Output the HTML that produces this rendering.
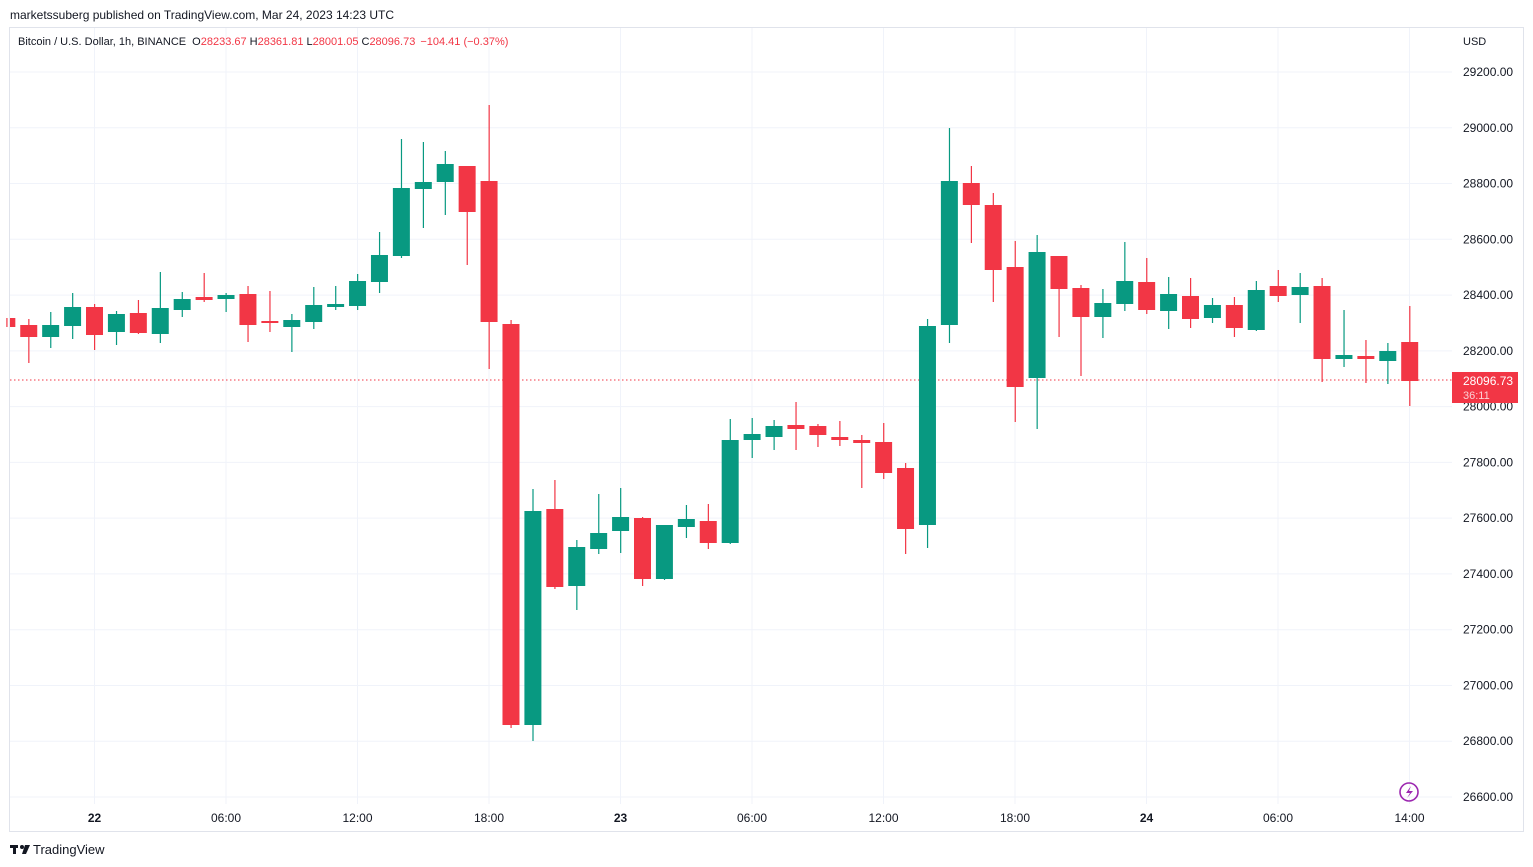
<!DOCTYPE html>
<html><head><meta charset="utf-8"><style>
body{margin:0;background:#fff;width:1533px;height:867px;overflow:hidden;font-family:"Liberation Sans",sans-serif}
svg{position:absolute;left:0;top:0}
</style></head><body>
<svg width="1533" height="867" xmlns="http://www.w3.org/2000/svg" font-family="Liberation Sans, sans-serif">
<text x="10" y="19" font-size="12" fill="#131722">marketssuberg published on TradingView.com, Mar 24, 2023 14:23 UTC</text>
<rect x="9.5" y="27.5" width="1514" height="804" fill="#fff" stroke="#e0e3eb"/>
<g id="grid" stroke="#f0f3fa" stroke-width="1"></g>
<line x1="10" y1="380" x2="1452" y2="380" stroke="#f23645" stroke-dasharray="1.5,2.5"/>
<g id="candles"></g>
<g font-size="12" fill="#131722" id="plabels"></g>
<text x="1463" y="45" font-size="11" fill="#131722">USD</text>
<text x="18" y="45" font-size="11" fill="#131722">Bitcoin / U.S. Dollar, 1h, BINANCE <tspan dx="3">O</tspan><tspan fill="#f23645">28233.67</tspan><tspan dx="3">H</tspan><tspan fill="#f23645">28361.81</tspan><tspan dx="3">L</tspan><tspan fill="#f23645">28001.05</tspan><tspan dx="3">C</tspan><tspan fill="#f23645">28096.73</tspan><tspan dx="5" fill="#f23645">−104.41 (−0.37%)</tspan></text>
<rect x="1452" y="372" width="66" height="31" fill="#f23645"/>
<text x="1463" y="385" font-size="12" fill="#fff">28096.73</text>
<text x="1463" y="399" font-size="11" fill="#fbd0d4">36:11</text>
<g font-size="12" fill="#131722" text-anchor="middle" id="tlabels"></g>
<circle cx="1409" cy="792" r="9" fill="none" stroke="#9c27b0" stroke-width="1.6"/>
<path d="M1411 786 L1406 793 L1410 793 L1407 798 L1413 791 L1409 791 Z" fill="#9c27b0"/>
<g transform="translate(10,843)"><rect x="0" y="2" width="8" height="3" fill="#131722"/><rect x="3" y="2" width="3" height="9" fill="#131722"/><circle cx="12" cy="4" r="2" fill="#131722"/><path d="M15 2 L20 2 L16 11 L12 11 Z" fill="#131722"/></g>
<text x="33" y="854" font-size="13" fill="#131722">TradingView</text>
</svg>
<script>
const ns="http://www.w3.org/2000/svg";
const g=document.getElementById('grid'),pl=document.getElementById('plabels'),tl=document.getElementById('tlabels'),cg=document.getElementById('candles');
function el(t,a,p,txt){const e=document.createElementNS(ns,t);for(const k in a)e.setAttribute(k,a[k]);if(txt)e.textContent=txt;p.appendChild(e);return e;}
for(let n=0;n<=13;n++){const y=72+n*55.77;el('line',{x1:10,x2:1452,y1:y,y2:y},g);el('text',{x:1463,y:y+4},pl,(29200-n*200).toFixed(2));}
const tls=['22','06:00','12:00','18:00','23','06:00','12:00','18:00','24','06:00','14:00'];
tls.forEach((t,j)=>{const x=94.5+131.5*j;el('line',{x1:x,x2:x,y1:28,y2:804},g);const tt=el('text',{x:x,y:822},tl,t);if(t.length<=2)tt.setAttribute('font-weight','bold');});
// [k, color, bodyTop, bodyBot, wickTop, wickBot]
const C=[[-4,'r',318,327,318,327],[-3,'r',325,337,319,363],[-2,'g',325,337,312,348],[-1,'g',307,326,293,339],[0,'r',307,335,304,350],[1,'g',314,332,311,345],[2,'r',313,333,300,334],[3,'g',308,334,272,343],[4,'g',299,310,292,317],[5,'r',297,300,273,302],[6,'g',295,299,293,312],[7,'r',294,325,286,342],[8,'r',321,323,291,332],[9,'g',320,327,314,352],[10,'g',305,322,287,329],[11,'g',304,307,286,310],[12,'g',281,306,274,310],[13,'g',255,282,232,293],[14,'g',188,256,139,258],[15,'g',182,189,142,228],[16,'g',164,182,151,215],[17,'r',166,212,166,265],[18,'r',181,322,105,369],[19,'r',324,725,320,728],[20,'g',511,725,489,741],[21,'r',509,587,480,589],[22,'g',547,586,540,610],[23,'g',533,549,494,554],[24,'g',517,531,488,553],[25,'r',518,579,517,586],[26,'g',525,579,525,580],[27,'g',519,527,505,538],[28,'r',521,543,504,549],[29,'g',440,543,419,544],[30,'g',434,440,418,458],[31,'g',426,437,420,450],[32,'r',425,429,402,450],[33,'r',426,435,424,447],[34,'r',437,440,421,446],[35,'r',440,443,435,488],[36,'r',442,473,423,479],[37,'r',468,529,463,554],[38,'g',326,525,319,548],[39,'g',181,325,128,343],[40,'r',183,205,166,243],[41,'r',205,270,193,302],[42,'r',267,387,241,422],[43,'g',252,378,235,429],[44,'r',256,289,256,337],[45,'r',288,317,285,376],[46,'g',303,317,289,338],[47,'g',281,304,242,311],[48,'r',282,310,258,314],[49,'g',294,311,277,329],[50,'r',296,319,278,328],[51,'g',305,318,298,323],[52,'r',305,328,297,337],[53,'g',290,330,281,331],[54,'r',286,296,270,302],[55,'g',287,295,273,323],[56,'r',286,359,278,382],[57,'g',355,359,310,367],[58,'r',356,359,340,383],[59,'g',351,361,343,384],[60,'r',342,381,306,406]];
C.forEach(([k,c,bt,bb,wt,wb])=>{const x=94.5+21.92*k;const col=c=='g'?'#089981':'#f23645';
el('rect',{x:x-0.5,y:wt,width:1.2,height:wb-wt,fill:col},cg);
let l=x-8.5,w=17;if(l<10){w-=10-l;l=10;}
el('rect',{x:l,y:bt,width:w,height:Math.max(bb-bt,2),fill:col},cg);});
</script>
</body></html>
